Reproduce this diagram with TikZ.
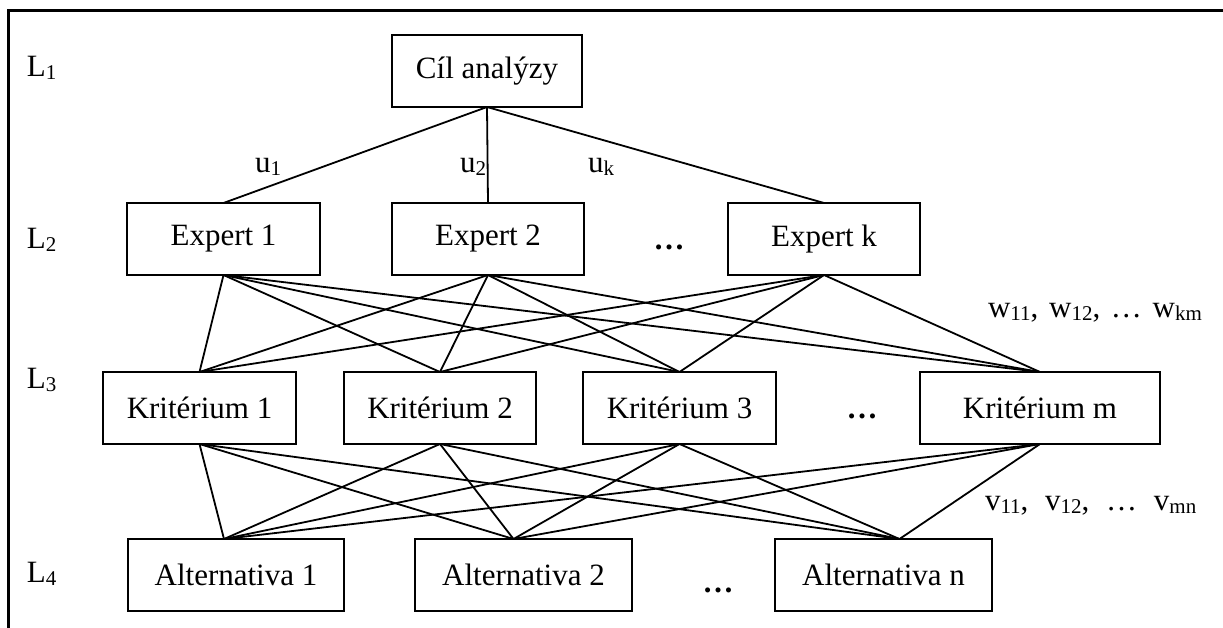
\documentclass[tikz,border=0pt]{standalone}
\usepackage{fontspec}
\setmainfont{Liberation Serif}
\newcommand\lowtxt[1]{\raisebox{-3pt}{\fontsize{21}{21}\selectfont #1}}
\begin{document}
\begin{tikzpicture}[x=1pt,y=-1pt,
  box/.style={draw, line width=2pt, minimum height=72pt, inner sep=0pt, outer sep=0pt, font=\fontsize{31}{37}\selectfont},
  lbl/.style={inner sep=0pt, outer sep=0pt, font=\fontsize{31}{37}\selectfont},
  edge/.style={line width=1.8pt}]
\useasboundingbox (0,0) rectangle (1223,628);
\draw[line width=3pt] (8,628) -- (8,11) -- (1223,11);

% level labels
\node[lbl, anchor=base west] (l1) at (27,77) {L\lowtxt{1}};
\node[lbl, anchor=base west] (l2) at (27,249) {L\lowtxt{2}};
\node[lbl, anchor=base west] (l3) at (27,388) {L\lowtxt{3}};
\node[lbl, anchor=base west] (l4) at (27,582) {L\lowtxt{4}};

% boxes
\node[box, minimum width=190pt] (goal) at (487,71) {Cíl analýzy};
\node[box, minimum width=193pt] (E1) at (223.5,239) {Expert 1};
\node[box, minimum width=192pt] (E2) at (488,239) {Expert 2};
\node[box, minimum width=192pt] (Ek) at (824,239) {Expert k};
\node[box, minimum width=193pt] (K1) at (199.5,408) {Kritérium 1};
\node[box, minimum width=192pt] (K2) at (440,408) {Kritérium 2};
\node[box, minimum width=193pt] (K3) at (679.5,408) {Kritérium 3};
\node[box, minimum width=240pt] (Km) at (1040,408) {Kritérium m};
\node[box, minimum width=216pt] (A1) at (236,575) {Alternativa 1};
\node[box, minimum width=217pt] (A2) at (523.5,575) {Alternativa 2};
\node[box, minimum width=217pt] (An) at (883.5,575) {Alternativa n};

% ellipses
\node[lbl, anchor=base] (d1) at (669,250) {\textbf{…}};
\node[lbl, anchor=base] (d2) at (862,418) {\textbf{…}};
\node[lbl, anchor=base] (d3) at (718,592) {\textbf{…}};

% weight labels
\node[lbl, anchor=base west] (u1) at (255,173) {u\lowtxt{1}};
\node[lbl, anchor=base west] (u2) at (460,173) {u\lowtxt{2}};
\node[lbl, anchor=base west] (uk) at (588,173) {u\lowtxt{k}};
\node[lbl, anchor=base west] (wl) at (988,317) {w\lowtxt{11},\hspace{3pt} w\lowtxt{12},\hspace{3pt} …\hspace{3pt} w\lowtxt{km}};
\node[lbl, anchor=base west] (vl) at (985,510) {v\lowtxt{11},\hspace{9pt} v\lowtxt{12},\hspace{9pt} …\hspace{9pt} v\lowtxt{mn}};

% connectors
\foreach \e in {E1,E2,Ek} {\draw[edge] (goal.south) -- (\e.north);}
\foreach \e in {E1,E2,Ek} {
  \foreach \k in {K1,K2,K3,Km} {\draw[edge] (\e.south) -- (\k.north);}
}
\coordinate (A1t) at ([xshift=-12pt]A1.north);
\coordinate (A2t) at ([xshift=-10pt]A2.north);
\coordinate (Ant) at ([xshift=16pt]An.north);
\foreach \k in {K1,K2,K3,Km} {
  \foreach \a in {A1t,A2t,Ant} {\draw[edge] (\k.south) -- (\a);}
}
\end{tikzpicture}
\end{document}
